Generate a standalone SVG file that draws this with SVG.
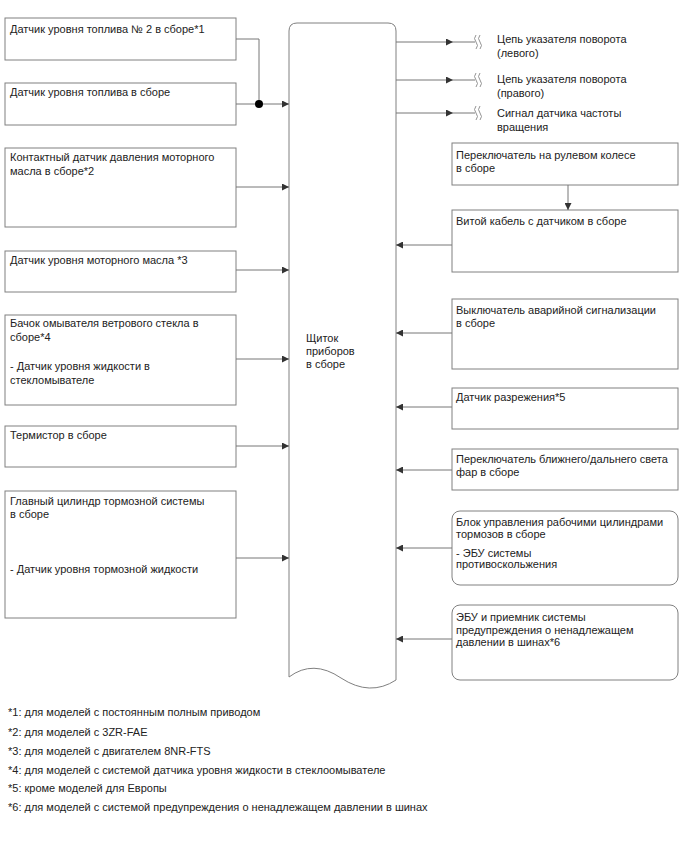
<svg xmlns="http://www.w3.org/2000/svg" width="688" height="852" viewBox="0 0 688 852">
<defs>
<marker id="ah" viewBox="0 0 10 10" refX="10" refY="5" markerWidth="9" markerHeight="7" markerUnits="userSpaceOnUse" orient="auto">
<path d="M0,0 L10,5 L0,10 z" fill="#333"/>
</marker>
</defs>
<style>
.box{fill:#fff;stroke:#808080;stroke-width:1}
.ln{fill:none;stroke:#777;stroke-width:1}
.t{font-family:"Liberation Sans",Arial,sans-serif;font-size:11px;fill:#222}
.brk{fill:none;stroke:#888;stroke-width:0.9}
</style>
<rect width="688" height="852" fill="#fff"/>

<g id="panel">
<path class="box" d="M289,31 Q289,23 297,23 L388,23 Q396,23 396,31 L396,680 Q370,697 341,678 Q313,659 289,677 Z"/>
<text class="t" x="306" y="342">Щиток</text>
<text class="t" x="306" y="355">приборов</text>
<text class="t" x="306" y="368">в сборе</text>
</g>

<g id="n-fuel2">
<rect class="box" x="5" y="18" width="231" height="42"/>
<text class="t" x="10" y="33">Датчик уровня топлива № 2 в сборе*1</text>
</g>
<g id="n-fuel">
<rect class="box" x="5" y="83" width="231" height="42"/>
<text class="t" x="10" y="96">Датчик уровня топлива в сборе</text>
</g>
<g id="n-oilpress">
<rect class="box" x="5" y="148" width="231" height="79"/>
<text class="t" x="10" y="161">Контактный датчик давления моторного</text>
<text class="t" x="10" y="175">масла в сборе*2</text>
</g>
<g id="n-oillevel">
<rect class="box" x="5" y="251" width="231" height="41"/>
<text class="t" x="10" y="264">Датчик уровня моторного масла *3</text>
</g>
<g id="n-washer">
<rect class="box" x="5" y="315" width="231" height="90"/>
<text class="t" x="10" y="327">Бачок омывателя ветрового стекла в</text>
<text class="t" x="10" y="341">сборе*4</text>
<text class="t" x="10" y="370">- Датчик уровня жидкости в</text>
<text class="t" x="10" y="384">стекломывателе</text>
</g>
<g id="n-thermistor">
<rect class="box" x="5" y="426" width="231" height="41"/>
<text class="t" x="10" y="439">Термистор в сборе</text>
</g>
<g id="n-mastercyl">
<rect class="box" x="5" y="491" width="231" height="127"/>
<text class="t" x="10" y="505">Главный цилиндр тормозной системы</text>
<text class="t" x="10" y="518">в сборе</text>
<text class="t" x="10" y="573">- Датчик уровня тормозной жидкости</text>
</g>

<g id="n-out-left">
<text class="t" x="497" y="43">Цепь указателя поворота</text>
<text class="t" x="497" y="57">(левого)</text>
</g>
<g id="n-out-right">
<text class="t" x="497" y="83">Цепь указателя поворота</text>
<text class="t" x="497" y="97">(правого)</text>
</g>
<g id="n-out-speed">
<text class="t" x="497" y="117">Сигнал датчика частоты</text>
<text class="t" x="497" y="131">вращения</text>
</g>

<g id="n-steersw">
<rect class="box" x="452" y="143" width="226" height="42"/>
<text class="t" x="456" y="159">Переключатель на рулевом колесе</text>
<text class="t" x="456" y="172">в сборе</text>
</g>
<g id="n-spiral">
<rect class="box" x="452" y="210" width="226" height="62"/>
<text class="t" x="456" y="225">Витой кабель с датчиком в сборе</text>
</g>
<g id="n-hazard">
<rect class="box" x="452" y="299" width="226" height="70"/>
<text class="t" x="456" y="314">Выключатель аварийной сигнализации</text>
<text class="t" x="456" y="327">в сборе</text>
</g>
<g id="n-vacuum">
<rect class="box" x="452" y="388" width="226" height="41"/>
<text class="t" x="456" y="401">Датчик разрежения*5</text>
</g>
<g id="n-dimmer">
<rect class="box" x="452" y="449" width="226" height="41"/>
<text class="t" x="456" y="463">Переключатель ближнего/дальнего света</text>
<text class="t" x="456" y="476">фар в сборе</text>
</g>
<g id="n-brakeact">
<rect class="box" x="452" y="511" width="226" height="74" rx="8"/>
<text class="t" x="456" y="526">Блок управления рабочими цилиндрами</text>
<text class="t" x="456" y="538">тормозов в сборе</text>
<text class="t" x="456" y="557">- ЭБУ системы</text>
<text class="t" x="456" y="568">противоскольжения</text>
</g>
<g id="n-tpms">
<rect class="box" x="452" y="605" width="226" height="75" rx="8"/>
<text class="t" x="456" y="621">ЭБУ и приемник системы</text>
<text class="t" x="456" y="634">предупреждения о ненадлежащем</text>
<text class="t" x="456" y="646">давлении в шинах*6</text>
</g>

<g id="connectors">
<path class="ln" d="M236,39 L259,39 L259,104"/>
<path class="ln" d="M236,104 L289,104" marker-end="url(#ah)"/>
<circle cx="259" cy="104" r="4" fill="#000"/>
<path class="ln" d="M236,187 L289,187" marker-end="url(#ah)"/>
<path class="ln" d="M236,270 L289,270" marker-end="url(#ah)"/>
<path class="ln" d="M236,359 L289,359" marker-end="url(#ah)"/>
<path class="ln" d="M236,446 L289,446" marker-end="url(#ah)"/>
<path class="ln" d="M236,558 L289,558" marker-end="url(#ah)"/>

<path class="ln" d="M452,245 L396,245" marker-end="url(#ah)"/>
<path class="ln" d="M452,333 L396,333" marker-end="url(#ah)"/>
<path class="ln" d="M452,407 L396,407" marker-end="url(#ah)"/>
<path class="ln" d="M452,470 L396,470" marker-end="url(#ah)"/>
<path class="ln" d="M452,548 L396,548" marker-end="url(#ah)"/>
<path class="ln" d="M452,639 L396,639" marker-end="url(#ah)"/>

<path class="ln" d="M568,185 L568,210" marker-end="url(#ah)"/>

<path class="ln" d="M396,42 L453,42" marker-end="url(#ah)"/>
<path class="ln" d="M453,42 L475,42"/>
<path class="ln" d="M396,80 L453,80" marker-end="url(#ah)"/>
<path class="ln" d="M453,80 L475,80"/>
<path class="ln" d="M396,113 L453,113" marker-end="url(#ah)"/>
<path class="ln" d="M453,113 L475,113"/>
<path class="brk" d="M476,35 q-3,3.5 0,7 q3,3.5 0,7 M480,35 q-3,3.5 0,7 q3,3.5 0,7"/>
<path class="brk" d="M476,73 q-3,3.5 0,7 q3,3.5 0,7 M480,73 q-3,3.5 0,7 q3,3.5 0,7"/>
<path class="brk" d="M476,106 q-3,3.5 0,7 q3,3.5 0,7 M480,106 q-3,3.5 0,7 q3,3.5 0,7"/>
</g>

<g id="footnotes">
<text class="t" x="8" y="716">*1: для моделей с постоянным полным приводом</text>
<text class="t" x="8" y="736">*2: для моделей с 3ZR-FAE</text>
<text class="t" x="8" y="755">*3: для моделей с двигателем 8NR-FTS</text>
<text class="t" x="8" y="774">*4: для моделей с системой датчика уровня жидкости в стеклоомывателе</text>
<text class="t" x="8" y="792">*5: кроме моделей для Европы</text>
<text class="t" x="8" y="811">*6: для моделей с системой предупреждения о ненадлежащем давлении в шинах</text>
</g>
</svg>
